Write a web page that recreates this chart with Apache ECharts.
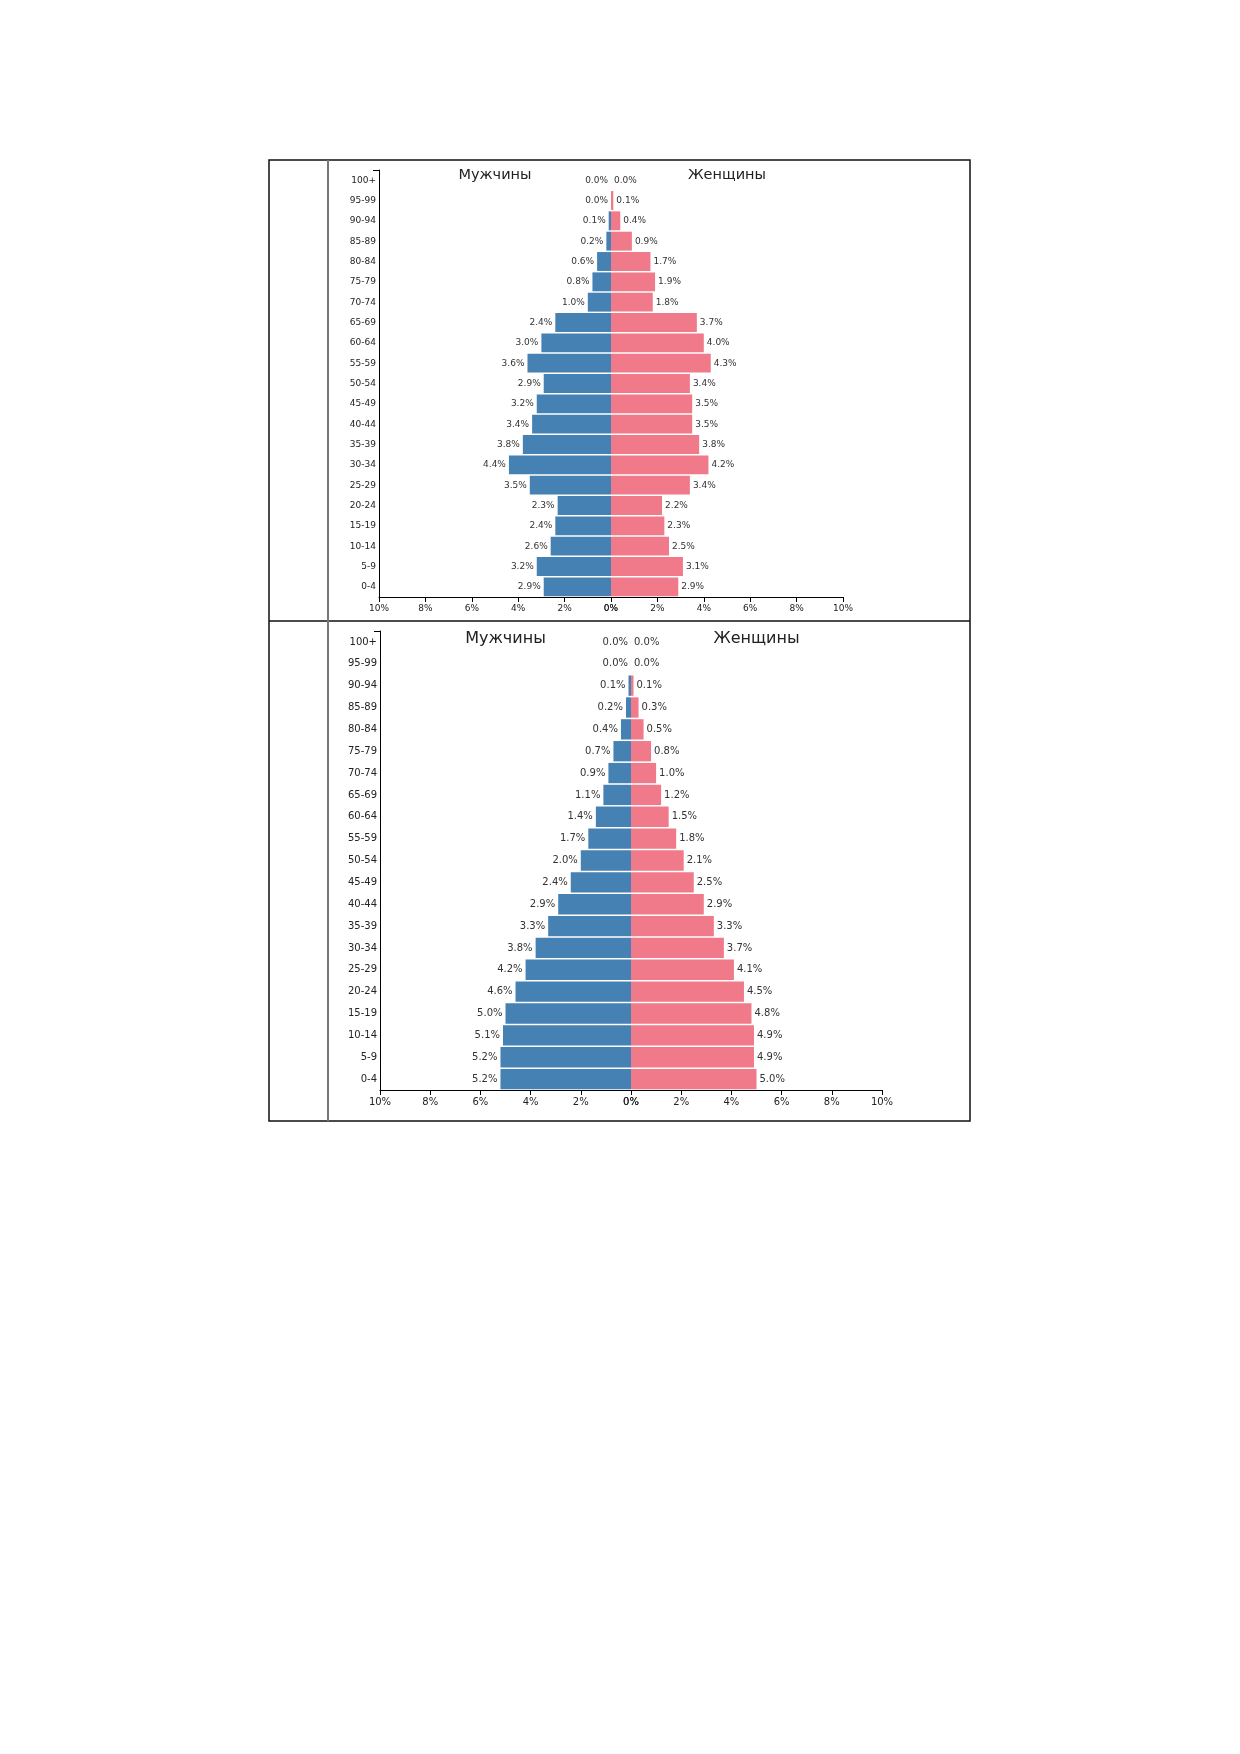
<!DOCTYPE html>
<html>
<head>
<meta charset="utf-8">
<script src="https://cdn.jsdelivr.net/npm/echarts@6/dist/echarts.min.js"></script>
<style>
html,body{margin:0;padding:0;background:#fff;}
#c{width:1240px;height:1754px;}
</style>
</head>
<body>
<div id="c"></div>
<script>
// ---- data ----
const ageGroups = ['100+','95-99','90-94','85-89','80-84','75-79','70-74','65-69','60-64','55-59','50-54','45-49','40-44','35-39','30-34','25-29','20-24','15-19','10-14','5-9','0-4'];
const men1   = [0.0,0.0,0.1,0.2,0.6,0.8,1.0,2.4,3.0,3.6,2.9,3.2,3.4,3.8,4.4,3.5,2.3,2.4,2.6,3.2,2.9];
const women1 = [0.0,0.1,0.4,0.9,1.7,1.9,1.8,3.7,4.0,4.3,3.4,3.5,3.5,3.8,4.2,3.4,2.2,2.3,2.5,3.1,2.9];
const men2   = [0.0,0.0,0.1,0.2,0.4,0.7,0.9,1.1,1.4,1.7,2.0,2.4,2.9,3.3,3.8,4.2,4.6,5.0,5.1,5.2,5.2];
const women2 = [0.0,0.0,0.1,0.3,0.5,0.8,1.0,1.2,1.5,1.8,2.1,2.5,2.9,3.3,3.7,4.1,4.5,4.8,4.9,4.9,5.0];
const titleMen = 'Мужчины';
const titleWomen = 'Женщины';
const axisMax = 10;
const axisStep = 2;

// ---- layout ----
const L = [
  {x0:379, mid:611, x1:843, top:170, bottom:597, font:9, title:14.5, titleY:175},
  {x0:380, mid:631, x1:882, top:631, bottom:1090, font:10, title:16, titleY:639}
];
const BLUE = '#4681b4', PINK = '#f07a89';
const FONT = 'DejaVu Sans';

const grids = [], xAxes = [], yAxes = [], series = [], graphics = [];
const sets = [[men1, women1],[men2, women2]];

L.forEach((p, k) => {
  const h = p.bottom - p.top;
  grids.push({left:p.x0, top:p.top, width:p.mid-p.x0, height:h});
  grids.push({left:p.mid, top:p.top, width:p.x1-p.mid, height:h});
  const gi = k*2;
  const xa = (inv) => ({
    type:'value', min:0, max:axisMax, interval:axisStep, inverse:inv,
    splitLine:{show:false},
    axisLine:{show:true, onZero:false, lineStyle:{color:'#000', width:1}},
    axisTick:{show:true, length:5, lineStyle:{color:'#000'}},
    axisLabel:{formatter:'{value}%', fontFamily:FONT, fontSize:p.font, color:'#222', margin:7}
  });
  xAxes.push(Object.assign({gridIndex:gi, position:'bottom'}, xa(true)));
  xAxes.push(Object.assign({gridIndex:gi+1, position:'bottom'}, xa(false)));
  yAxes.push({gridIndex:gi, type:'category', data:ageGroups, inverse:true, position:'left',
    axisLine:{show:true, onZero:false, lineStyle:{color:'#000', width:1}},
    axisTick:{show:false},
    axisLabel:{fontFamily:FONT, fontSize:p.font, color:'#222', margin:3}
  });
  yAxes.push({gridIndex:gi+1, type:'category', data:ageGroups, inverse:true, show:false});
  const lab = (pos) => ({show:true, position:pos, distance:3, fontFamily:FONT, fontSize:p.font, color:'#333',
    formatter:(d)=> d.value.toFixed(1)+'%'});
  series.push({type:'bar', xAxisIndex:gi, yAxisIndex:gi, data:sets[k][0], barCategoryGap:'7%',
    itemStyle:{color:BLUE}, label:lab('left'), silent:true, animation:false});
  series.push({type:'bar', xAxisIndex:gi+1, yAxisIndex:gi+1, data:sets[k][1], barCategoryGap:'7%',
    itemStyle:{color:PINK}, label:lab('right'), silent:true, animation:false});
  // titles
  graphics.push({type:'text', style:{x:(p.x0+p.mid)/2, y:p.titleY, text:titleMen, font:`${p.title}px "${FONT}"`, fill:'#222', textAlign:'center', textVerticalAlign:'middle'}});
  graphics.push({type:'text', style:{x:(p.mid+p.x1)/2, y:p.titleY, text:titleWomen, font:`${p.title}px "${FONT}"`, fill:'#222', textAlign:'center', textVerticalAlign:'middle'}});
  // outer tick stub at top of y axis
  graphics.push({type:'line', shape:{x1:p.x0-6, y1:p.top+0.5, x2:p.x0, y2:p.top+0.5}, style:{stroke:'#000', lineWidth:1}});
});

// frame
graphics.push({type:'rect', shape:{x:269, y:160, width:701, height:961}, style:{fill:'none', stroke:'#111', lineWidth:1.5}});
graphics.push({type:'line', shape:{x1:269, y1:621, x2:970, y2:621}, style:{stroke:'#111', lineWidth:1.5}});
graphics.push({type:'line', shape:{x1:328, y1:160, x2:328, y2:1121}, style:{stroke:'#777', lineWidth:2}});

const chart = echarts.init(document.getElementById('c'), null, {renderer:'canvas'});
chart.setOption({
  animation:false,
  backgroundColor:'#fff',
  textStyle:{fontFamily:FONT},
  grid:grids, xAxis:xAxes, yAxis:yAxes, series:series,
  graphic:graphics
});
</script>
</body>
</html>
